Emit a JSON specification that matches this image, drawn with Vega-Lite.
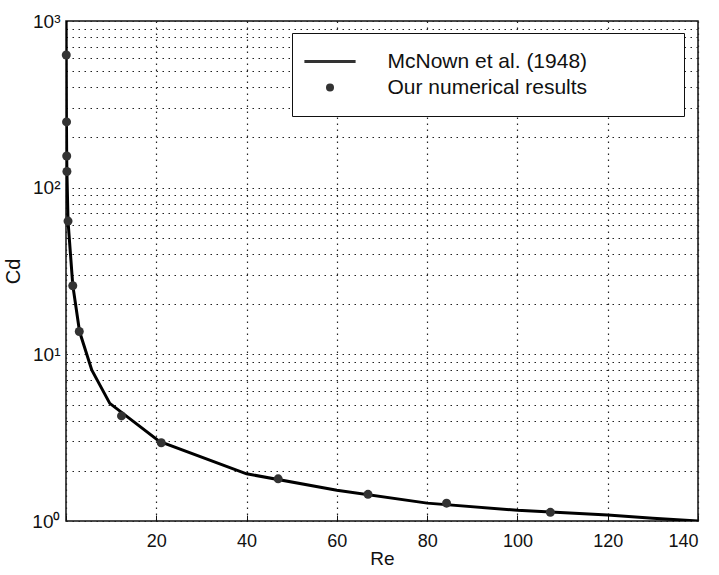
{
  "$schema": "https://vega.github.io/schema/vega-lite/v6.json",
  "width": 632,
  "height": 500,
  "autosize": {"type": "none"},
  "padding": {"left": 66, "top": 21, "right": 21, "bottom": 54},
  "background": "white",
  "config": {
    "font": "Liberation Sans",
    "view": {"stroke": "#111", "strokeWidth": 1.5},
    "axis": {
      "domain": false,
      "gridColor": "#222",
      "gridDash": [1.5, 4.5],
      "gridWidth": 1.2,
      "gridOpacity": 1,
      "labelColor": "#111",
      "titleColor": "#111",
      "labelFont": "Liberation Sans",
      "titleFont": "Liberation Sans",
      "titleFontWeight": "normal",
      "labelFontSize": 18,
      "titleFontSize": 19
    }
  },
  "datasets": {
    "mcnown": [
      {"Re": 0.03, "Cd": 1000, "series": "McNown et al. (1948)"},
      {"Re": 0.05, "Cd": 625, "series": "McNown et al. (1948)"},
      {"Re": 0.1, "Cd": 250, "series": "McNown et al. (1948)"},
      {"Re": 0.15, "Cd": 157, "series": "McNown et al. (1948)"},
      {"Re": 0.2, "Cd": 125, "series": "McNown et al. (1948)"},
      {"Re": 0.45, "Cd": 63, "series": "McNown et al. (1948)"},
      {"Re": 1.5, "Cd": 26, "series": "McNown et al. (1948)"},
      {"Re": 3, "Cd": 13.7, "series": "McNown et al. (1948)"},
      {"Re": 5.7, "Cd": 8.05, "series": "McNown et al. (1948)"},
      {"Re": 9.7, "Cd": 5.08, "series": "McNown et al. (1948)"},
      {"Re": 20.7, "Cd": 3.0, "series": "McNown et al. (1948)"},
      {"Re": 40, "Cd": 1.92, "series": "McNown et al. (1948)"},
      {"Re": 60, "Cd": 1.53, "series": "McNown et al. (1948)"},
      {"Re": 80, "Cd": 1.28, "series": "McNown et al. (1948)"},
      {"Re": 100, "Cd": 1.16, "series": "McNown et al. (1948)"},
      {"Re": 120, "Cd": 1.085, "series": "McNown et al. (1948)"},
      {"Re": 130, "Cd": 1.04, "series": "McNown et al. (1948)"},
      {"Re": 140, "Cd": 1.0, "series": "McNown et al. (1948)"}
    ],
    "ours": [
      {"Re": 0.06, "Cd": 625, "series": "Our numerical results"},
      {"Re": 0.12, "Cd": 248, "series": "Our numerical results"},
      {"Re": 0.16, "Cd": 155, "series": "Our numerical results"},
      {"Re": 0.2, "Cd": 125, "series": "Our numerical results"},
      {"Re": 0.45, "Cd": 63, "series": "Our numerical results"},
      {"Re": 1.5, "Cd": 25.8, "series": "Our numerical results"},
      {"Re": 2.94, "Cd": 13.7, "series": "Our numerical results"},
      {"Re": 12.3, "Cd": 4.27, "series": "Our numerical results"},
      {"Re": 21.1, "Cd": 2.95, "series": "Our numerical results"},
      {"Re": 47, "Cd": 1.79, "series": "Our numerical results"},
      {"Re": 66.9, "Cd": 1.445, "series": "Our numerical results"},
      {"Re": 84.3, "Cd": 1.28, "series": "Our numerical results"},
      {"Re": 107.3, "Cd": 1.127, "series": "Our numerical results"}
    ]
  },
  "encoding": {
    "x": {
      "field": "Re",
      "type": "quantitative",
      "scale": {"domain": [0, 140], "nice": false, "zero": false},
      "axis": {
        "title": "Re",
        "values": [0, 20, 40, 60, 80, 100, 120, 140],
        "labelExpr": "datum.value == 0 ? '' : datum.label",
        "tickSize": -6,
        "tickColor": "#111",
        "labelPadding": 17,
        "titlePadding": -1
      }
    },
    "y": {
      "field": "Cd",
      "type": "quantitative",
      "scale": {"type": "log", "domain": [1, 1000], "nice": false},
      "axis": {
        "title": "Cd",
        "titleFontSize": 20,
        "titlePadding": 8,
        "values": [1, 2, 3, 4, 5, 6, 7, 8, 9, 10, 20, 30, 40, 50, 60, 70, 80, 90, 100, 200, 300, 400, 500, 600, 700, 800, 900, 1000],
        "labelExpr": "datum.value == 1 ? '10⁰' : datum.value == 10 ? '10¹' : datum.value == 100 ? '10²' : datum.value == 1000 ? '10³' : ''",
        "ticks": false,
        "labelPadding": 6,
        "labelFontSize": 19
      }
    }
  },
  "layer": [
    {
      "data": {"name": "mcnown"},
      "mark": {"type": "line", "color": "#000", "strokeWidth": 3, "clip": true}
    },
    {
      "data": {"name": "ours"},
      "mark": {"type": "point", "filled": true, "color": "#333", "opacity": 1, "size": 81},
      "encoding": {
        "shape": {
          "field": "series",
          "type": "nominal",
          "scale": {
            "domain": ["McNown et al. (1948)", "Our numerical results"],
            "range": ["M-6.4,-0.35H6.4V0.35H-6.4Z", "circle"]
          },
          "legend": {
            "title": null,
            "orient": "none",
            "legendX": 226,
            "legendY": 12,
            "padding": 18,
            "strokeColor": "#111",
            "fillColor": "white",
            "symbolSize": 64,
            "symbolStrokeWidth": 0,
            "symbolFillColor": "#222",
            "symbolOpacity": 1,
            "symbolOffset": 9.5,
            "labelOffset": 47,
            "labelFontSize": 21,
            "labelFont": "Liberation Sans",
            "labelColor": "#111",
            "labelLimit": 500,
            "rowPadding": 4,
            "labelExpr": "datum.label + '\u2003\u2003\u2003\u2800'",
            "encode": {"legend": {"update": {"strokeWidth": {"value": 1.5}}}}
          }
        }
      }
    }
  ]
}
